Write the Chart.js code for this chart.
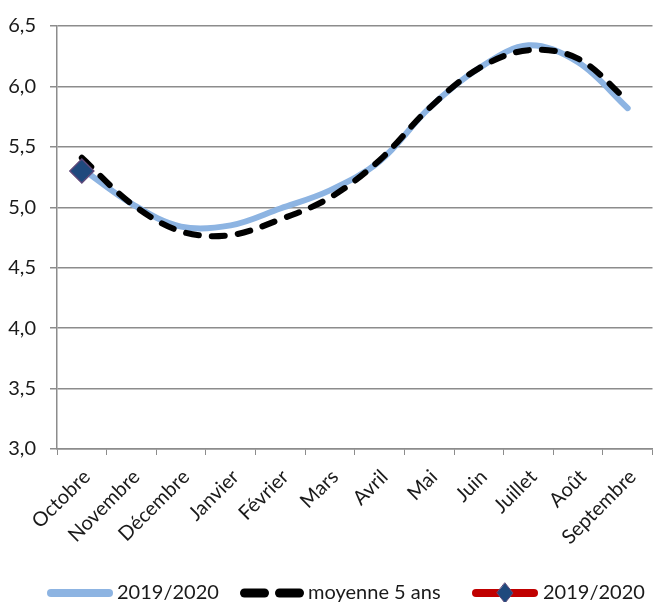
<!DOCTYPE html>
<html>
<head>
<meta charset="utf-8">
<script src="https://cdn.jsdelivr.net/npm/chart.js@4/dist/chart.umd.min.js"></script>
<style>
  html, body { margin: 0; padding: 0; background: #fff; }
  #wrap { width: 666px; height: 602px; position: relative; }
</style>
</head>
<body>
<div id="wrap"><canvas id="c" width="666" height="602"></canvas></div>
<script>
const labels = ['Octobre', 'Novembre', 'Décembre', 'Janvier', 'Février', 'Mars', 'Avril', 'Mai', 'Juin', 'Juillet', 'Août', 'Septembre'];
const serie2019 = [5.32, 5.03, 4.84, 4.85, 4.99, 5.14, 5.38, 5.82, 6.15, 6.34, 6.20, 5.82];
const moyenne5 = [5.41, 5.03, 4.80, 4.77, 4.90, 5.08, 5.39, 5.82, 6.15, 6.30, 6.23, 5.88];
const point2019 = [5.30, null, null, null, null, null, null, null, null, null, null, null];
const yTicks = [3.0, 3.5, 4.0, 4.5, 5.0, 5.5, 6.0, 6.5];
const legendNames = ['2019/2020', 'moyenne 5 ans', '2019/2020'];

const FONT = 'Lato, "Noto Sans", sans-serif';
const TEXT = '#1a1a1a';
const BLUE = '#8DB4E2';
const BLACK = '#000000';
const RED = '#C00000';
const DIAMOND = '#1F497D';
const DIAMOND_BORDER = '#604A7B';
const GRID = '#8C8C8C';

const legendPlugin = {
  id: 'bottomLegend',
  afterDraw(chart) {
    const ctx = chart.ctx;
    ctx.save();
    ctx.font = '20px ' + FONT;
    ctx.textBaseline = 'middle';
    const y = 593;
    const sw = 66;
    const starts = [47, 240, 472];
    ctx.lineCap = 'round';
    // item 1: blue line
    let x = starts[0];
    ctx.strokeStyle = BLUE; ctx.lineWidth = 8;
    ctx.beginPath(); ctx.moveTo(x + 4, y); ctx.lineTo(x + sw - 4, y); ctx.stroke();
    ctx.fillStyle = TEXT;
    ctx.fillText(legendNames[0], x + sw + 4, y);
    // item 2: dashed black
    x = starts[1];
    ctx.strokeStyle = BLACK; ctx.lineWidth = 9;
    ctx.beginPath(); ctx.moveTo(x + 4.5, y); ctx.lineTo(x + 24.5, y); ctx.stroke();
    ctx.beginPath(); ctx.moveTo(x + 39.5, y); ctx.lineTo(x + 59.5, y); ctx.stroke();
    ctx.fillText(legendNames[1], x + sw + 2, y);
    // item 3: red line with diamond
    x = starts[2];
    ctx.strokeStyle = RED; ctx.lineWidth = 8;
    ctx.beginPath(); ctx.moveTo(x + 4, y); ctx.lineTo(x + sw - 4, y); ctx.stroke();
    const cx = x + sw / 2;
    ctx.beginPath();
    ctx.moveTo(cx, y - 10); ctx.lineTo(cx + 8, y); ctx.lineTo(cx, y + 10); ctx.lineTo(cx - 8, y); ctx.closePath();
    ctx.fillStyle = DIAMOND; ctx.fill();
    ctx.lineWidth = 1; ctx.strokeStyle = DIAMOND_BORDER; ctx.stroke();
    ctx.fillStyle = TEXT;
    ctx.fillText(legendNames[2], x + sw + 5, y);
    ctx.restore();
  }
};

new Chart(document.getElementById('c'), {
  type: 'line',
  data: {
    labels: labels,
    datasets: [
      {
        label: legendNames[0], data: serie2019,
        borderColor: BLUE, borderWidth: 6, tension: 0.35,
        pointRadius: 0, borderCapStyle: 'round', borderJoinStyle: 'round', order: 3
      },
      {
        label: legendNames[1], data: moyenne5,
        borderColor: BLACK, borderWidth: 6, tension: 0.35,
        borderDash: [13, 13], borderCapStyle: 'round',
        pointRadius: 0, order: 2
      },
      {
        label: legendNames[2], data: point2019,
        borderColor: RED, borderWidth: 6, pointStyle: 'rectRot',
        pointRadius: 12, pointBackgroundColor: DIAMOND,
        pointBorderColor: DIAMOND_BORDER, pointBorderWidth: 1.5, order: 1
      }
    ]
  },
  options: {
    responsive: false,
    animation: false,
    devicePixelRatio: 1,
    layout: { padding: { top: 22, right: 0, bottom: 0, left: 0 } },
    plugins: { legend: { display: false }, tooltip: { enabled: false } },
    scales: {
      x: {
        offset: true,
        grid: { offset: true, drawOnChartArea: false, drawTicks: true, tickLength: 6, color: GRID },
        border: { color: GRID, width: 1.5 },
        ticks: { font: { family: FONT, size: 20 }, color: TEXT, maxRotation: 45, minRotation: 45, padding: 10, labelOffset: 5, autoSkip: false },
        afterFit(scale) { scale.height = 153; }
      },
      y: {
        min: 3.0, max: 6.5,
        afterBuildTicks(scale) { scale.ticks = yTicks.map(v => ({ value: v })); },
        grid: { color: GRID, lineWidth: 1.5, tickLength: 7 },
        border: { color: GRID, width: 1.5 },
        ticks: {
          font: { family: FONT, size: 20 }, color: TEXT, padding: 14,
          callback: v => v.toFixed(1).replace('.', ',')
        },
        afterFit(scale) { scale.width = 57; }
      }
    }
  },
  plugins: [legendPlugin]
});
</script>
</body>
</html>
